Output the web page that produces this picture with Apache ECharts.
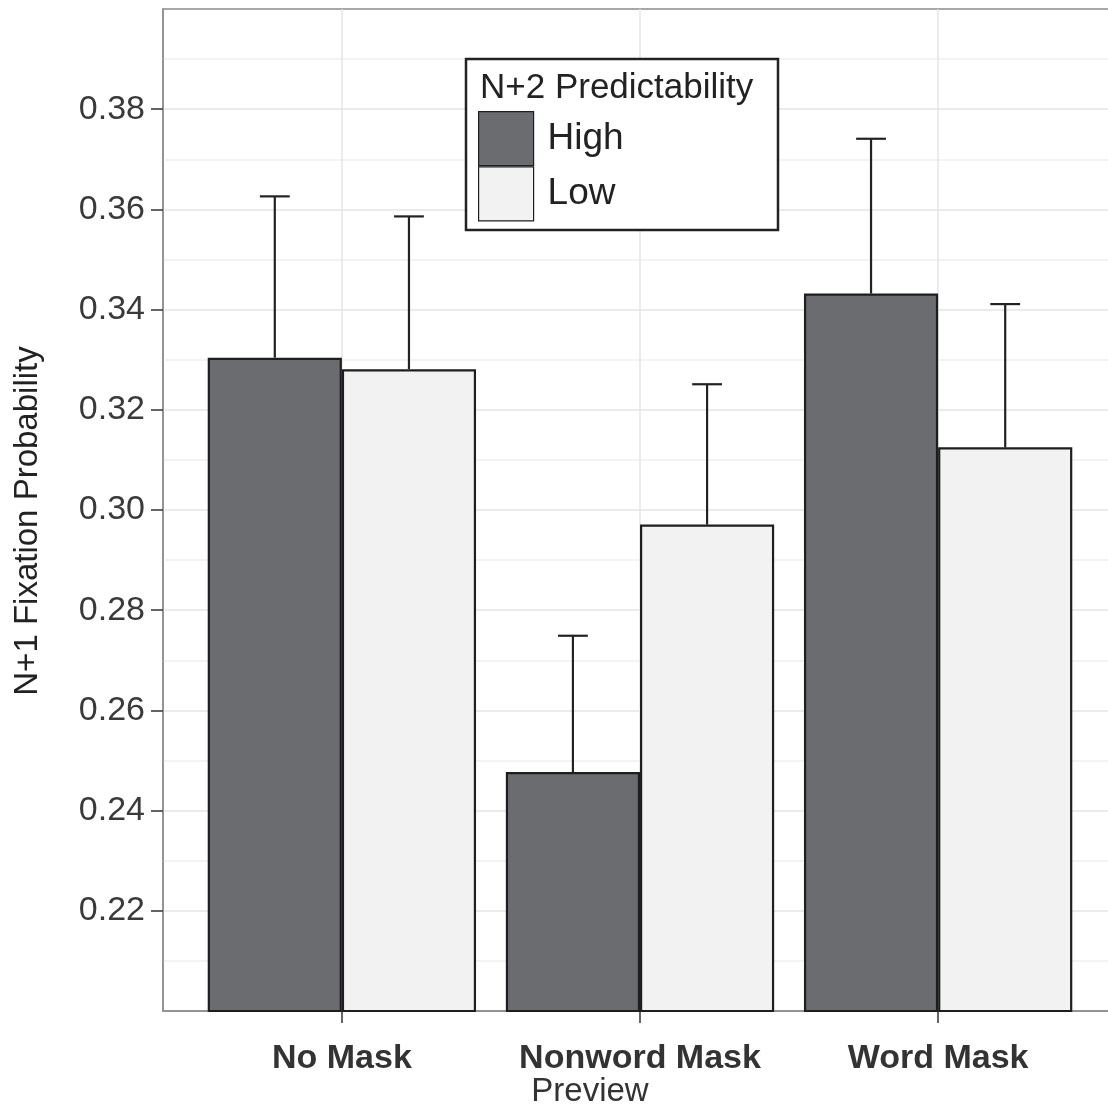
<!DOCTYPE html>
<html>
<head>
<meta charset="utf-8">
<script src="https://cdn.jsdelivr.net/npm/echarts@6/dist/echarts.min.js"></script>
<style>
  html, body { margin: 0; padding: 0; background: #fff; }
  #chart { width: 1108px; height: 1108px; }
</style>
</head>
<body>
<div id="chart"></div>
<script>
// data
const categories = ['No Mask', 'Nonword Mask', 'Word Mask'];
const highMeans = [0.3304, 0.2477, 0.3432];
const highSE = [0.0322, 0.0272, 0.0309];
const lowMeans = [0.3281, 0.2971, 0.3125];
const lowSE = [0.0305, 0.0280, 0.0286];
const yTicks = [0.22, 0.24, 0.26, 0.28, 0.30, 0.32, 0.34, 0.36, 0.38];

const FONT = '"Liberation Sans", Arial, sans-serif';
const xMin = 0.4, xMax = 3.6;
const gridLeft = 163, gridTop = 9, gridW = 954, gridH = 1002;
const dodge = 0.45;   // width of one bar in axis units
const capW = 0.1;     // error bar cap width in axis units
const barPx = gridW * dodge / (xMax - xMin);

const xPos = categories.map((c, i) => i + 1);

function errSeries(name, means, se, side) {
  return {
    type: 'custom',
    name: name + ' err',
    z: 3,
    data: xPos.map((x, i) => [x, means[i], means[i] + se[i]]),
    renderItem: function (params, api) {
      const cx = api.value(0) + side * dodge / 2;
      const base = api.coord([cx, api.value(1)]);
      const top = api.coord([cx, api.value(2)]);
      const half = api.size([capW, 0])[0] / 2;
      const st = { stroke: '#222', lineWidth: 2.2 };
      return {
        type: 'group',
        children: [
          { type: 'line', shape: { x1: base[0], y1: base[1], x2: top[0], y2: top[1] }, style: st },
          { type: 'line', shape: { x1: top[0] - half, y1: top[1], x2: top[0] + half, y2: top[1] }, style: st }
        ]
      };
    }
  };
}

const chart = echarts.init(document.getElementById('chart'));
const option = {
  backgroundColor: '#fff',
  animation: false,
  textStyle: { fontFamily: FONT },
  grid: {
    left: gridLeft, top: gridTop, width: gridW, height: gridH,
    outerBoundsMode: 'none', containLabel: false,
    show: true, borderColor: '#8c8c8c', borderWidth: 1.5, backgroundColor: 'transparent'
  },
  xAxis: {
    type: 'value', min: xMin, max: xMax,
    axisLine: { show: true, onZero: false, lineStyle: { color: '#8c8c8c', width: 1.5 } },
    axisTick: { show: true, customValues: xPos, length: 12, lineStyle: { color: '#333', width: 1.5 } },
    axisLabel: {
      customValues: xPos, margin: 31,
      formatter: v => categories[Math.round(v) - 1] || '',
      fontSize: 34, fontWeight: 'bold', color: '#333', fontFamily: FONT
    },
    splitLine: { show: true, lineStyle: { color: '#e4e4e4', width: 1.5 } }
  },
  yAxis: {
    type: 'value', min: 0.2, max: 0.4, interval: 0.02,
    axisLine: { show: true, lineStyle: { color: '#8c8c8c', width: 1.5 } },
    axisTick: { show: true, customValues: yTicks, length: 12, lineStyle: { color: '#333', width: 1.5 } },
    axisLabel: {
      customValues: yTicks, margin: 18,
      formatter: v => v.toFixed(2),
      fontSize: 34, color: '#3a3a3a', fontFamily: FONT
    },
    splitLine: { show: true, lineStyle: { color: '#e4e4e4', width: 1.5 } },
    minorTick: { show: false, splitNumber: 2 },
    minorSplitLine: { show: true, lineStyle: { color: '#f0f0f0', width: 1.5 } }
  },
  legend: {
    orient: 'vertical', left: 478, top: 111, z: 12,
    padding: 0, itemGap: 0, itemWidth: 55, itemHeight: 54,
    icon: 'rect',
    itemStyle: { borderWidth: 1.2 },
    data: ['High', 'Low'],
    textStyle: { fontSize: 37, color: '#222', fontFamily: FONT, padding: [0, 0, 0, 9] }
  },
  graphic: [
    {
      type: 'rect', z: 10,
      shape: { x: 466, y: 59, width: 312, height: 171 },
      style: { fill: '#fff', stroke: '#222', lineWidth: 2.5 }
    },
    {
      type: 'text', z: 12, left: 480, top: 71,
      style: { text: 'N+2 Predictability', font: '35px ' + FONT, fill: '#222' }
    },
    {
      type: 'text', z: 12, x: 28, y: 521, rotation: Math.PI / 2,
      style: { text: 'N+1 Fixation Probability', font: '33px ' + FONT, fill: '#222', align: 'center', verticalAlign: 'middle' }
    },
    {
      type: 'text', z: 12, x: 590, y: 1092,
      style: { text: 'Preview', font: '33px ' + FONT, fill: '#333', align: 'center', verticalAlign: 'middle' }
    }
  ],
  series: [
    {
      type: 'bar', name: 'High', barWidth: barPx, barGap: '0%', z: 2,
      itemStyle: { color: '#6b6c70', borderColor: '#1e1e1e', borderWidth: 2.2 },
      data: xPos.map((x, i) => [x, highMeans[i]])
    },
    {
      type: 'bar', name: 'Low', barWidth: barPx, barGap: '0%', z: 2,
      itemStyle: { color: '#f1f2f1', borderColor: '#1e1e1e', borderWidth: 2.2 },
      data: xPos.map((x, i) => [x, lowMeans[i]])
    },
    errSeries('High', highMeans, highSE, -1),
    errSeries('Low', lowMeans, lowSE, 1)
  ]
};
chart.setOption(option);
</script>
</body>
</html>
